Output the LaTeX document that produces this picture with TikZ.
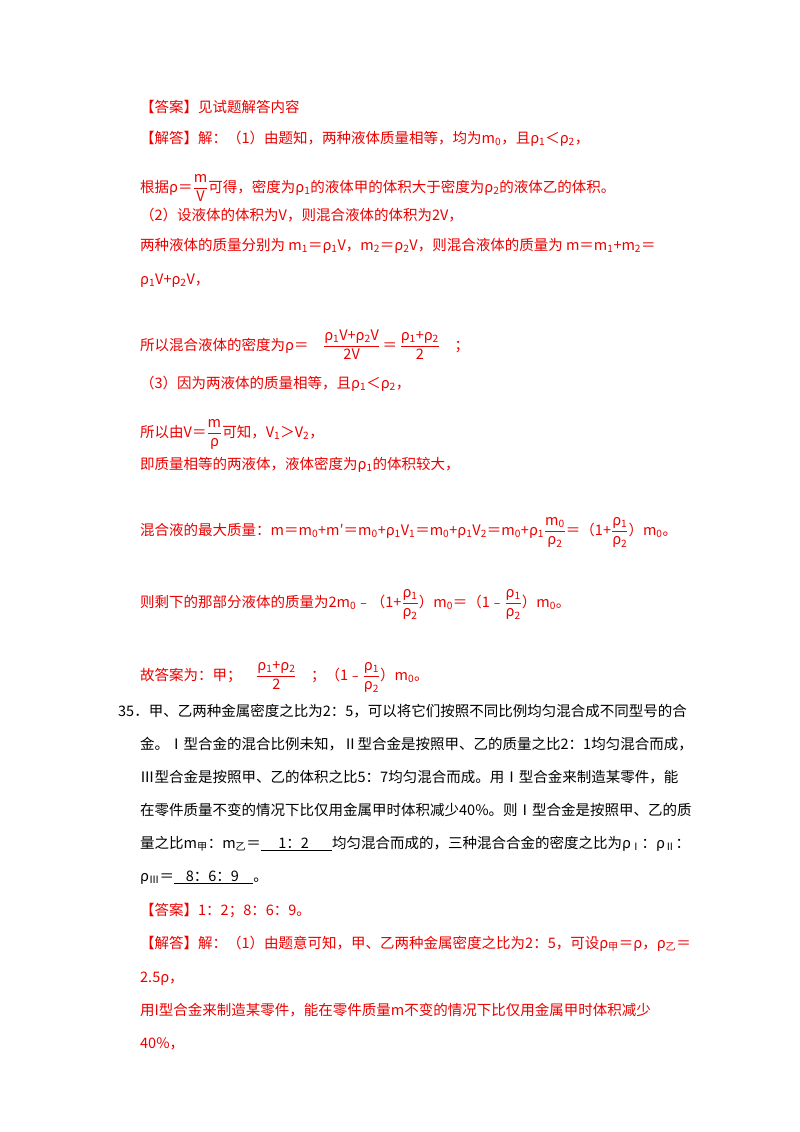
\documentclass[tikz,border=0pt]{standalone}
\usepackage{amsmath}
\usepackage{fontspec}
\setmainfont{Noto Sans CJK SC}
\definecolor{ansred}{RGB}{235,0,0}
\newcommand\myfr[2]{\ensuremath{\genfrac{}{}{0.6pt}{0}{\text{#1}}{\text{#2}}}}
\newcommand\sbs[1]{\textsubscript{#1}}
\tikzset{ln/.style={anchor=base west,inner sep=0pt,font=\fontsize{14.5}{17}\selectfont},
red/.style={ln,text=ansred},blk/.style={ln,text=black}}
\begin{document}
\begin{tikzpicture}[x=1pt,y=-1pt]
\useasboundingbox[fill=white] (0,0) rectangle (800,1132);
\node[red] (l1) at (140,112) {【答案】见试题解答内容};
\node[red] (l2) at (140,143) {【解答】解：（1）由题知，两种液体质量相等，均为m\sbs{0}，且ρ\sbs{1}＜ρ\sbs{2}，};
\node[red] (l3) at (140,192) {根据ρ＝\myfr{m}{V}可得，密度为ρ\sbs{1}的液体甲的体积大于密度为ρ\sbs{2}的液体乙的体积。};
\node[red] (l4) at (140,220) {（2）设液体的体积为V，则混合液体的体积为2V，};
\node[red] (l5) at (140,250) {两种液体的质量分别为 m\sbs{1}＝ρ\sbs{1}V，m\sbs{2}＝ρ\sbs{2}V，则混合液体的质量为 m＝m\sbs{1}+m\sbs{2}＝};
\node[red] (l6) at (140,284) {ρ\sbs{1}V+ρ\sbs{2}V，};
\node[red] (l7) at (140,350) {所以混合液体的密度为ρ＝\quad\myfr{ρ\sbs{1}V+ρ\sbs{2}V}{2V}\,＝\,\myfr{ρ\sbs{1}+ρ\sbs{2}}{2}\quad ；};
\node[red] (l8) at (140,388) {（3）因为两液体的质量相等，且ρ\sbs{1}＜ρ\sbs{2}，};
\node[red] (l9) at (140,437) {所以由V＝\myfr{m}{ρ}可知，V\sbs{1}＞V\sbs{2}，};
\node[red] (l10) at (140,469) {即质量相等的两液体，液体密度为ρ\sbs{1}的体积较大，};
\node[red] (l11) at (140,535) {混合液的最大质量：m＝m\sbs{0}+m′＝m\sbs{0}+ρ\sbs{1}V\sbs{1}＝m\sbs{0}+ρ\sbs{1}V\sbs{2}＝m\sbs{0}+ρ\sbs{1}\myfr{m\sbs{0}}{ρ\sbs{2}}＝（1+\myfr{ρ\sbs{1}}{ρ\sbs{2}}）m\sbs{0}。};
\node[red] (l12) at (140,607) {则剩下的那部分液体的质量为2m\sbs{0}﹣（1+\myfr{ρ\sbs{1}}{ρ\sbs{2}}）m\sbs{0}＝（1﹣\myfr{ρ\sbs{1}}{ρ\sbs{2}}）m\sbs{0}。};
\node[red] (l13) at (140,680) {故答案为：甲；\quad\myfr{ρ\sbs{1}+ρ\sbs{2}}{2}\quad；（1﹣\myfr{ρ\sbs{1}}{ρ\sbs{2}}）m\sbs{0}。};
\node[blk] (q1) at (118,716) {35．甲、乙两种金属密度之比为2：5，可以将它们按照不同比例均匀混合成不同型号的合};
\node[blk] (q2) at (140,749) {金。Ⅰ型合金的混合比例未知，Ⅱ型合金是按照甲、乙的质量之比2：1均匀混合而成，};
\node[blk] (q3) at (140,782) {Ⅲ型合金是按照甲、乙的体积之比5：7均匀混合而成。用Ⅰ型合金来制造某零件，能};
\node[blk] (q4) at (140,815) {在零件质量不变的情况下比仅用金属甲时体积减少40\%。则Ⅰ型合金是按照甲、乙的质};
\node[blk] (q5) at (140,848) {量之比m\sbs{甲}：m\sbs{乙}＝\underline{\hspace{1.2em}1：2\hspace{1.6em}}均匀混合而成的，三种混合合金的密度之比为ρ\sbs{Ⅰ}：ρ\sbs{Ⅱ}：};
\node[blk] (q6) at (140,881) {ρ\sbs{Ⅲ}＝\underline{\hspace{0.8em}8：6：9\hspace{1em}}。};
\node[red] (a1) at (140,915) {【答案】1：2；8：6：9。};
\node[red] (a2) at (140,948) {【解答】解：（1）由题意可知，甲、乙两种金属密度之比为2：5，可设ρ\sbs{甲}＝ρ，ρ\sbs{乙}＝};
\node[red] (a3) at (140,982) {2.5ρ，};
\node[red] (a4) at (140,1015) {用I型合金来制造某零件，能在零件质量m不变的情况下比仅用金属甲时体积减少};
\node[red] (a5) at (140,1048) {40\%，};
\end{tikzpicture}
\end{document}
